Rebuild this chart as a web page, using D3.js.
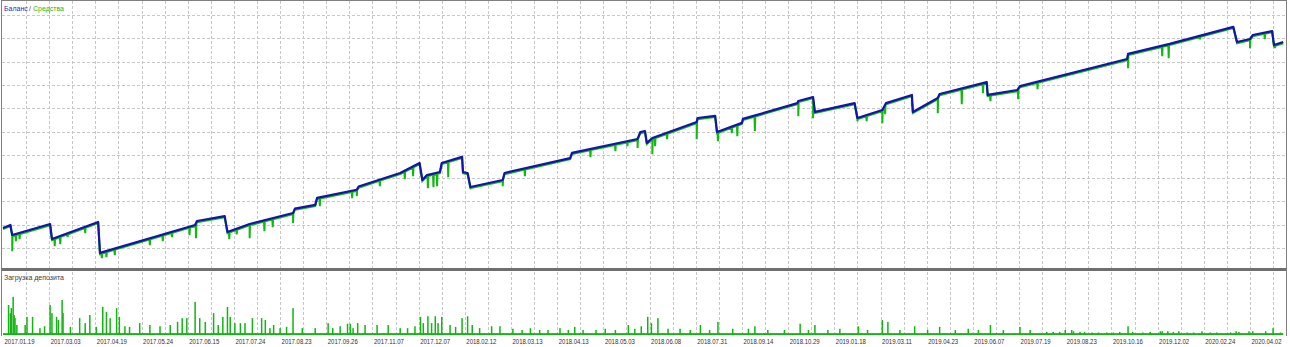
<!DOCTYPE html>
<html>
<head>
<meta charset="utf-8">
<script src="https://cdn.jsdelivr.net/npm/d3@7"></script>
<style>
  body { margin: 0; background: #fff; }
  svg { display: block; }
  text { font-family: "Liberation Sans", Arial, sans-serif; }
</style>
</head>
<body>
<svg id="chart" width="1290" height="347"></svg>
<script>
// date labels under every second grid column (deal 0, 50, 100, ...)
var dateLabels = ["2017.01.19","2017.03.03","2017.04.19","2017.05.24","2017.06.15","2017.07.24",
  "2017.08.23","2017.09.26","2017.11.07","2017.12.07","2018.02.12","2018.03.13","2018.04.13",
  "2018.05.03","2018.06.08","2018.07.31","2018.09.14","2018.10.29","2019.01.18","2019.03.11",
  "2019.04.23","2019.06.07","2019.07.19","2019.08.23","2019.10.16","2019.12.02","2020.02.24","2020.04.02"];

// balance curve: deal number / balance
var balanceDeals  = [0, 8, 10, 51, 53, 103, 105, 208, 210, 240, 243, 267, 314, 316, 338, 340, 383, 385, 430, 451, 454, 459, 473, 475,
  497, 498, 503, 506, 541, 543, 614, 616, 687, 690, 695, 697, 703, 751, 752, 771, 773, 800, 801, 860,
  861, 877, 879, 922, 925, 952, 956, 984, 985, 1012, 1014, 1065, 1066, 1098, 1101, 1217, 1218, 1263,
  1332, 1336, 1350, 1353, 1374, 1376, 1386];
var balanceValues = [10860, 10990, 10560, 11030, 10390, 11120, 9790, 10990, 11160, 11370, 10690, 11030, 11500, 11690, 11850, 12150, 12500, 12640, 13220, 13650, 12920, 13130, 13260, 13650,
  13910, 13260, 13220, 12620, 12920, 13220, 13860, 14080, 14680, 14980, 15020, 14510, 14720, 15410, 15580, 15670, 14980, 15370, 15540, 16220,
  16310, 16480, 15840, 16220, 15580, 15920, 16220, 16570, 15840, 16440, 16610, 17120, 16570, 16780, 16950, 18110, 18330, 18760,
  19490, 18840, 18970, 19140, 19310, 18710, 18840];

// equity drawdowns (lowest equity at the deal)
var equityDeals  = [10, 14, 18, 56, 62, 70, 89, 107, 112, 121, 159, 173, 183, 202, 209, 245, 253, 267, 283, 292,
  314, 343, 378, 383, 408, 435, 444, 460, 466, 470, 482, 506, 541, 565, 636, 663, 676, 687, 703, 706,
  719, 751, 774, 789, 795, 814, 861, 877, 925, 935, 952, 955, 984, 1012, 1038, 1061, 1069, 1099, 1120,
  1218, 1255, 1262, 1296, 1350, 1366, 1377];
var equityValues = [9910, 10340, 10430, 10130, 10220, 10520, 10690, 9610, 9660, 9740, 10170, 10340, 10515, 10600, 10470, 10430, 10640, 10470, 10770, 10940,
  11120, 11845, 12190, 12280, 12700, 13000, 13130, 12620, 12660, 12700, 13090, 12570, 12700, 13130, 13950, 14210, 14420, 14340, 14080, 14420,
  14720, 14720, 14640, 14980, 14850, 15070, 15710, 15620, 15490, 15490, 15410, 15790, 16140, 15840, 16220, 16700, 16350, 16440, 16870,
  17770, 18280, 18200, 19010, 18630, 19010, 18630];

// deposit load, %
var loadDeals = [6, 8, 9, 11, 12, 13, 15, 24, 26, 32, 40, 45, 51, 53, 58, 60, 64, 65, 73, 83,
  89, 94, 101, 108, 112, 116, 123, 126, 132, 137, 148, 159, 170, 181, 189, 194, 199, 208, 213, 219,
  228, 233, 238, 243, 246, 251, 257, 262,
  270, 280, 284, 289, 293, 300, 307, 314, 324, 338, 352, 357, 365, 373, 376, 379, 384, 392, 405, 417,
  430, 438, 446, 452, 455, 460, 464, 468, 471, 475, 484, 490, 497, 503, 508, 516, 529,
  538, 552, 562, 571, 581, 590, 603, 612, 619, 628, 642, 652, 663, 677, 684, 691, 698, 702, 709, 720,
  733, 744, 755, 765, 774, 790, 807, 814, 828, 846, 863, 872, 879, 893, 906, 926, 936, 952, 958, 971,
  987, 1001, 1014, 1031, 1045, 1056, 1069, 1083, 1101, 1112,
  1130, 1137, 1144, 1150, 1157, 1159, 1166, 1171, 1179, 1186, 1195, 1202, 1209, 1218, 1223, 1234, 1242,
  1253, 1255, 1261, 1267, 1273, 1282, 1289, 1298, 1307, 1314, 1329, 1335, 1338, 1349, 1353, 1367, 1375, 1383];
var loadValues = [48, 35, 43, 61, 32, 27, 16, 16, 29, 29, 11, 14, 48, 35, 29, 24, 56, 35, 13, 27,
  19, 32, 13, 45, 37, 27, 43, 29, 14, 13, 19, 16, 14, 16, 21, 27, 27, 53, 27, 21,
  35, 16, 29, 45, 29, 19, 19, 19,
  27, 27, 24, 11, 16, 11, 13, 43, 11, 11, 19, 11, 14, 18, 18, 11, 19, 16, 16, 16,
  11, 11, 14, 29, 19, 30, 19, 30, 19, 29, 16, 13, 27, 30, 16, 11, 14,
  14, 10, 8, 11, 8, 8, 11, 8, 13, 8, 8, 10, 8, 16, 10, 14, 29, 19, 27, 10,
  10, 8, 16, 8, 21, 10, 10, 14, 8, 8, 18, 8, 16, 8, 10, 14, 8, 24, 21, 8,
  14, 8, 13, 8, 10, 8, 16, 8, 13, 8,
  5, 5, 5, 8, 8, 6, 5, 5, 4, 4, 4, 4, 5, 14, 5, 4, 5,
  6, 6, 6, 5, 6, 4, 4, 6, 4, 4, 4, 6, 5, 6, 6, 6, 11, 4];
var loadFloor = 3;

var svg = d3.select("#chart");

var x = d3.scaleLinear().domain([0, 1389]).range([3, 1286]);
var y = d3.scaleLinear().domain([9142, 20644]).range([268, 0]);
var yl = d3.scaleLinear().domain([0, 100]).range([335, 272.5]);

var gridColor = "#c8c8c8";

// grid, top panel
svg.append("g").selectAll("line")
    .data(d3.range(10000, 20001, 1000))
  .enter().append("line")
    .attr("x1", 2).attr("x2", 1286)
    .attr("y1", function(d) { return Math.round(y(d)) + 0.5; })
    .attr("y2", function(d) { return Math.round(y(d)) + 0.5; })
    .attr("stroke", gridColor).attr("stroke-dasharray", "3,2");

svg.append("g").selectAll("line")
    .data(d3.range(25, 1389, 25))
  .enter().append("line")
    .attr("x1", function(d) { return Math.round(x(d)) + 0.5; })
    .attr("x2", function(d) { return Math.round(x(d)) + 0.5; })
    .attr("y1", 1).attr("y2", 268)
    .attr("stroke", gridColor).attr("stroke-dasharray", "3,2");

// grid, bottom panel
svg.append("g").selectAll("line")
    .data(d3.range(25, 1389, 25))
  .enter().append("line")
    .attr("x1", function(d) { return Math.round(x(d)) + 0.5; })
    .attr("x2", function(d) { return Math.round(x(d)) + 0.5; })
    .attr("y1", 272).attr("y2", 336)
    .attr("stroke", gridColor).attr("stroke-dasharray", "3,2");

// equity: balance line with the drawdown spikes cut into it
var balAt = d3.scaleLinear().domain(balanceDeals).range(balanceValues);
var eqPts = balanceDeals.map(function(d, i) { return [d, balanceValues[i]]; });
equityDeals.forEach(function(d, i) {
  eqPts.push([d - 0.4, balAt(d - 0.4)], [d, equityValues[i]], [d + 0.4, balAt(d + 0.4)]);
});
eqPts.sort(function(a, b) { return a[0] - b[0]; });

var line = d3.line()
    .x(function(d) { return x(d[0]); })
    .y(function(d) { return y(d[1]); });

// equity sits just under balance, drawn first
svg.append("path")
    .datum(eqPts)
    .attr("transform", "translate(0,1.2)")
    .attr("fill", "none")
    .attr("stroke", "#10b810")
    .attr("stroke-width", 2)
    .attr("d", line);

svg.append("path")
    .datum(balanceDeals.map(function(d, i) { return [d, balanceValues[i]]; }))
    .attr("fill", "none")
    .attr("stroke", "#1414a8")
    .attr("stroke-width", 2.2)
    .attr("stroke-linejoin", "round")
    .attr("d", line);

// deposit load bars
svg.append("rect")
    .attr("x", x(0)).attr("width", x(1386) - x(0))
    .attr("y", yl(loadFloor)).attr("height", yl(0) - yl(loadFloor))
    .attr("fill", "#14b414");

svg.append("g").selectAll("rect")
    .data(loadDeals)
  .enter().append("rect")
    .attr("x", function(d) { return x(d) - 0.75; })
    .attr("width", 1.5)
    .attr("y", function(d, i) { return yl(loadValues[i]); })
    .attr("height", function(d, i) { return yl(0) - yl(loadValues[i]); })
    .attr("fill", "#14b414");

// frames
svg.append("rect")
    .attr("x", 1.5).attr("y", 0.5).attr("width", 1285).attr("height", 268)
    .attr("fill", "none").attr("stroke", "#808080");
svg.append("line")
    .attr("x1", 1).attr("x2", 1287).attr("y1", 269.5).attr("y2", 269.5)
    .attr("stroke", "#707070").attr("stroke-width", 3);
svg.append("line")
    .attr("x1", 1.5).attr("x2", 1.5).attr("y1", 269).attr("y2", 336)
    .attr("stroke", "#808080");
svg.append("line")
    .attr("x1", 1286.5).attr("x2", 1286.5).attr("y1", 269).attr("y2", 336)
    .attr("stroke", "#808080");

// titles
svg.append("text")
    .attr("x", 4).attr("y", 11).attr("font-size", 7)
    .attr("fill", "#2a2ab8").text("Баланс");
svg.append("text")
    .attr("x", 29).attr("y", 11).attr("font-size", 7)
    .attr("fill", "#404040").text("/");
svg.append("text")
    .attr("x", 33).attr("y", 11).attr("font-size", 7)
    .attr("fill", "#22b822").text("Средства");

svg.append("text")
    .attr("x", 4).attr("y", 280)
    .attr("font-size", 7)
    .attr("fill", "#404040")
    .text("Загрузка депозита");

// date axis
var xAxis = d3.axisBottom(x)
    .tickValues(d3.range(0, 1351, 50))
    .tickFormat(function(d, i) { return dateLabels[i]; })
    .tickSize(0)
    .tickPadding(3);

var ax = svg.append("g")
    .attr("transform", "translate(0,336)")
    .call(xAxis);
ax.select(".domain").remove();
ax.selectAll("text")
    .attr("text-anchor", "start")
    .attr("x", 1)
    .attr("font-size", 7)
    .attr("font-family", "Liberation Sans, Arial, sans-serif")
    .attr("fill", "#303030")
    .attr("textLength", 30).attr("lengthAdjust", "spacingAndGlyphs");
</script>
</body>
</html>
